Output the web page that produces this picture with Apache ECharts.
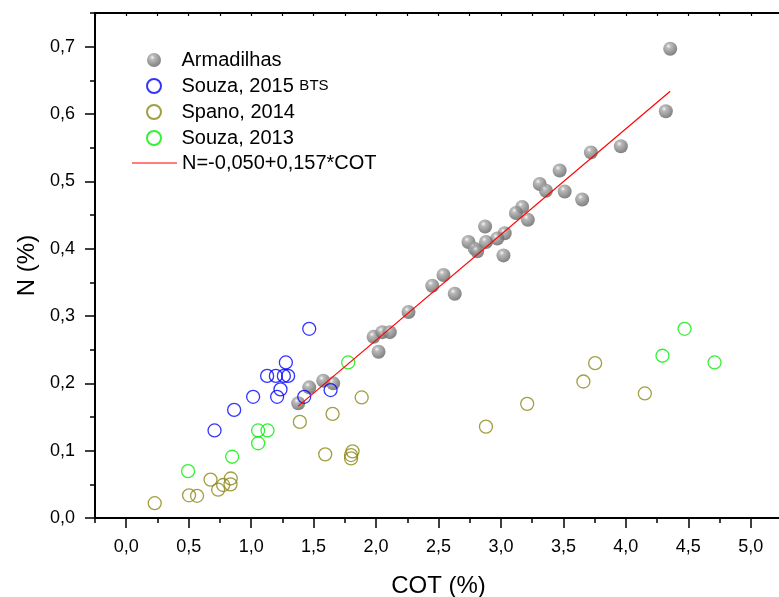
<!doctype html>
<html lang="pt">
<head>
    <meta charset="UTF-8">
    <title>N x COT</title>
    <style>
        html, body { margin: 0; padding: 0; background: #fff; }
        #chart { width: 779px; height: 597px; }
    </style>
</head>
<body>
    <div id="chart"></div>

    <script src="https://cdn.jsdelivr.net/npm/echarts@6.0.0/dist/echarts.min.js"></script>
    <script>
        // valores: [COT (%), N (%)]
        var armadilhas = [
            [4.355, 0.697], [4.32, 0.604], [3.96, 0.552], [3.72, 0.543], [3.47, 0.516],
            [3.51, 0.485], [3.65, 0.473], [3.31, 0.496], [3.36, 0.486], [3.17, 0.462],
            [3.12, 0.453], [3.215, 0.443], [2.873, 0.433], [3.03, 0.423], [2.97, 0.415],
            [2.88, 0.41], [2.74, 0.41], [2.79, 0.40], [2.81, 0.396], [3.02, 0.39],
            [2.54, 0.361], [2.45, 0.345], [2.63, 0.333], [2.26, 0.306], [1.98, 0.269],
            [2.05, 0.276], [2.11, 0.276], [2.02, 0.247], [1.577, 0.204], [1.657, 0.200],
            [1.465, 0.194], [1.377, 0.1705]
        ];
        var souza2015 = [
            [1.465, 0.281], [1.278, 0.231], [1.128, 0.211], [1.198, 0.211], [1.262, 0.211],
            [1.296, 0.211], [1.235, 0.191], [1.016, 0.180], [1.208, 0.180], [1.425, 0.180],
            [1.636, 0.190], [0.864, 0.1605], [0.707, 0.130]
        ];
        var spano2014 = [
            [1.885, 0.179], [1.39, 0.1427], [1.652, 0.1546], [1.593, 0.0945], [1.812, 0.099],
            [1.80, 0.0935], [1.80, 0.0885], [0.675, 0.057], [0.837, 0.0587], [0.835, 0.050],
            [0.776, 0.049], [0.736, 0.042], [0.503, 0.0337], [0.567, 0.033], [0.228, 0.022],
            [2.88, 0.1357], [3.21, 0.1695], [3.66, 0.2027], [3.754, 0.230], [4.152, 0.185]
        ];
        var souza2013 = [
            [1.777, 0.231], [1.056, 0.130], [1.131, 0.130], [1.056, 0.111], [0.848, 0.091],
            [0.495, 0.0696], [4.47, 0.281], [4.293, 0.241], [4.71, 0.231]
        ];
        // ajuste linear N = -0,050 + 0,157*COT
        var fitIntercept = -0.050;
        var fitSlope = 0.157;
        var fitRange = [1.377, 4.355];

        var xTicks = [0, 0.5, 1, 1.5, 2, 2.5, 3, 3.5, 4, 4.5, 5];
        var yTicks = [0, 0.1, 0.2, 0.3, 0.4, 0.5, 0.6, 0.7];

        var fitLine = fitRange.map(function (x) {
            return [x, fitIntercept + fitSlope * x];
        });

        var FONT = 'Liberation Sans, Arial, sans-serif';
        var FIT_NAME = 'N=-0,050+0,157*COT';
        function comma(v) { return v.toFixed(1).replace('.', ','); }

        var ball = {
            type: 'radial', x: 0.38, y: 0.32, r: 0.75,
            colorStops: [
                { offset: 0, color: '#f6f6f6' },
                { offset: 0.22, color: '#a9a9a9' },
                { offset: 0.65, color: '#7c7c7c' },
                { offset: 1, color: '#5a5a5a' }
            ]
        };

        function ring(color) {
            return { color: 'rgba(0,0,0,0)', borderColor: color, borderWidth: 1.3 };
        }

        var axisLine = { show: true, onZero: false, lineStyle: { color: '#000', width: 2 } };
        var legendText = {
            fontFamily: FONT, fontSize: 20, color: '#000',
            rich: { s: { fontFamily: FONT, fontSize: 15, color: '#000' } }
        };

        var chart = echarts.init(document.getElementById('chart'));

        var option = {
            animation: false,
            backgroundColor: '#fff',
            grid: { left: 95, top: 13, width: 687, height: 505, outerBoundsMode: 'none' },
            legend: [{
                orient: 'vertical',
                left: 141,
                top: 45,
                itemWidth: 45,
                itemHeight: 14,
                itemGap: 6,
                textStyle: legendText,
                formatter: function (name) {
                    if (name === 'Souza, 2015 BTS') return 'Souza, 2015 {s|BTS}';
                    return name;
                },
                data: ['Armadilhas', 'Souza, 2015 BTS', 'Spano, 2014', 'Souza, 2013']
            }, {
                orient: 'vertical',
                left: 127,
                top: 148,
                itemWidth: 45,
                itemHeight: 1.2,
                textStyle: legendText,
                data: [{ name: FIT_NAME, icon: 'rect' }]
            }],
            xAxis: [{
                type: 'value', position: 'bottom', min: -0.25, max: 5.25, interval: 0.25,
                axisLine: axisLine,
                axisTick: { show: true, length: 5, lineStyle: { color: '#000', width: 1.5 } },
                axisLabel: { show: false },
                splitLine: { show: false }
            }, {
                type: 'value', position: 'bottom', min: -0.25, max: 5.25,
                name: 'COT (%)', nameLocation: 'middle', nameGap: 56,
                nameTextStyle: { fontFamily: FONT, fontSize: 24, color: '#000' },
                axisLine: axisLine,
                axisTick: { show: true, length: 10, customValues: xTicks, lineStyle: { color: '#000', width: 1.5 } },
                axisLabel: {
                    customValues: xTicks, margin: 20,
                    fontFamily: FONT, fontSize: 18, color: '#000',
                    formatter: comma
                },
                splitLine: { show: false }
            }, {
                type: 'value', position: 'top', min: -0.25, max: 5.25, interval: 0.25,
                axisLine: axisLine,
                axisTick: { show: true, inside: true, length: 3, lineStyle: { color: '#000', width: 1.2 } },
                axisLabel: { show: false },
                splitLine: { show: false }
            }],
            yAxis: [{
                type: 'value', position: 'left', min: 0, max: 0.75, interval: 0.05,
                axisLine: axisLine,
                axisTick: { show: true, length: 5, lineStyle: { color: '#000', width: 1.5 } },
                axisLabel: { show: false },
                splitLine: { show: false }
            }, {
                type: 'value', position: 'left', min: 0, max: 0.75,
                name: 'N (%)', nameLocation: 'middle', nameGap: 56,
                nameTextStyle: { fontFamily: FONT, fontSize: 24, color: '#000' },
                axisLine: axisLine,
                axisTick: { show: true, length: 10, customValues: yTicks, lineStyle: { color: '#000', width: 1.5 } },
                axisLabel: {
                    customValues: yTicks, margin: 20,
                    fontFamily: FONT, fontSize: 18, color: '#000',
                    formatter: comma
                },
                splitLine: { show: false }
            }, {
                type: 'value', position: 'right', min: 0, max: 0.75,
                axisLine: axisLine,
                axisTick: { show: false },
                axisLabel: { show: false },
                splitLine: { show: false }
            }],
            series: [{
                name: 'Armadilhas', type: 'scatter', xAxisIndex: 1, yAxisIndex: 1,
                symbolSize: 14, symbolKeepAspect: true, z: 3,
                itemStyle: { color: ball },
                data: armadilhas
            }, {
                name: 'Souza, 2015 BTS', type: 'scatter', xAxisIndex: 1, yAxisIndex: 1,
                symbolSize: 13, symbolKeepAspect: true, z: 4,
                itemStyle: ring('#0000ff'),
                data: souza2015
            }, {
                name: 'Spano, 2014', type: 'scatter', xAxisIndex: 1, yAxisIndex: 1,
                symbolSize: 13, symbolKeepAspect: true, z: 4,
                itemStyle: ring('#8b8614'),
                data: spano2014
            }, {
                name: 'Souza, 2013', type: 'scatter', xAxisIndex: 1, yAxisIndex: 1,
                symbolSize: 13, symbolKeepAspect: true, z: 4,
                itemStyle: ring('#00ee00'),
                data: souza2013
            }, {
                name: FIT_NAME, type: 'line', xAxisIndex: 1, yAxisIndex: 1,
                showSymbol: false, symbol: 'none', z: 5,
                lineStyle: { color: '#ff0000', width: 1.2 },
                itemStyle: { color: '#ff0000' },
                data: fitLine
            }]
        };

        chart.setOption(option);
    </script>
</body>
</html>
